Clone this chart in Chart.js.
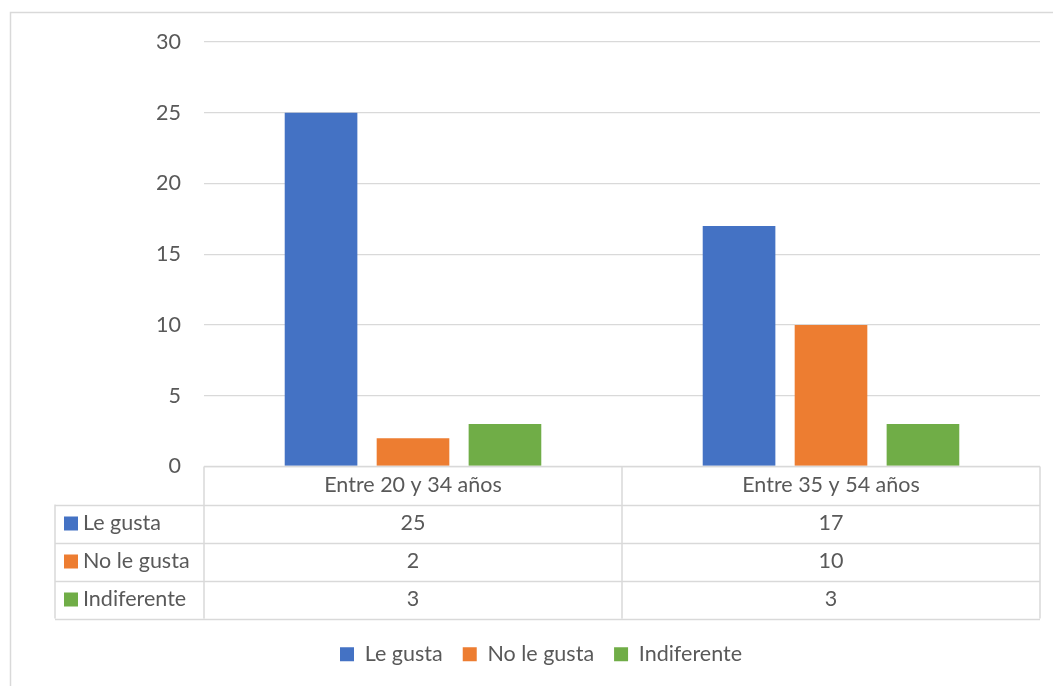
<!DOCTYPE html>
<html>
<head>
<meta charset="utf-8">
<script src="https://cdn.jsdelivr.net/npm/chart.js@4"></script>
<style>
  body { margin: 0; background: #fff; }
  #wrap { width: 1053px; height: 686px; }
</style>
</head>
<body>
<div id="wrap"><canvas id="chart" width="1053" height="686"></canvas></div>
<script>
// datos
const categorias = ['Entre 20 y 34 años', 'Entre 35 y 54 años'];
const leGusta = [25, 17];
const noLeGusta = [2, 10];
const indiferente = [3, 3];
const yMax = 30;
const yPaso = 5;

const series = [
  { label: 'Le gusta', data: leGusta, color: '#4472C4' },
  { label: 'No le gusta', data: noLeGusta, color: '#ED7D31' },
  { label: 'Indiferente', data: indiferente, color: '#70AD47' }
];

const FUENTE = 'Lato';
const TAM = 21.5;
const GRIS = '#595959';
const LINEA = '#d9d9d9';
const FILA = 38;      // alto de cada fila de la tabla
const COL_IZQ = 55;   // borde izquierdo de la tabla

// marco exterior
const marco = {
  id: 'marco',
  beforeDraw(chart) {
    const ctx = chart.ctx;
    ctx.save();
    ctx.fillStyle = '#fff';
    ctx.fillRect(0, 0, chart.width, chart.height);
    ctx.strokeStyle = LINEA;
    ctx.lineWidth = 1.5;
    ctx.strokeRect(10.5, 12.5, 1100, 700);
    ctx.restore();
  }
};

// tabla de datos bajo el eje x
const tabla = {
  id: 'tabla',
  afterDraw(chart) {
    const ctx = chart.ctx;
    const x = chart.scales.x;
    const area = chart.chartArea;
    const top = area.bottom;
    const izq = area.left, der = area.right;
    const n = series.length;
    ctx.save();
    ctx.strokeStyle = LINEA;
    ctx.lineWidth = 1.5;
    ctx.beginPath();
    // horizontales
    ctx.moveTo(izq, top); ctx.lineTo(der, top);
    for (let i = 1; i <= n + 1; i++) {
      const y = Math.round(top + FILA * i) + 0.5;
      ctx.moveTo(COL_IZQ, y); ctx.lineTo(der, y);
    }
    // verticales
    const fondo = top + FILA * (n + 1);
    ctx.moveTo(COL_IZQ, top + FILA); ctx.lineTo(COL_IZQ, fondo);
    ctx.moveTo(izq, top); ctx.lineTo(izq, fondo);
    for (let c = 0; c < categorias.length; c++) {
      const borde = c < categorias.length - 1
        ? (x.getPixelForTick(c) + x.getPixelForTick(c + 1)) / 2
        : der;
      ctx.moveTo(borde, top); ctx.lineTo(borde, fondo);
    }
    ctx.stroke();

    ctx.font = TAM + 'px ' + FUENTE;
    ctx.fillStyle = GRIS;
    ctx.textBaseline = 'middle';
    ctx.textAlign = 'center';
    categorias.forEach((cat, c) => {
      ctx.fillText(cat, x.getPixelForTick(c), top + FILA / 2);
    });
    series.forEach((s, i) => {
      const yc = top + FILA * (i + 1) + FILA / 2;
      ctx.fillStyle = s.color;
      ctx.fillRect(COL_IZQ + 9, yc - 7, 14, 14);
      ctx.fillStyle = GRIS;
      ctx.textAlign = 'left';
      ctx.fillText(s.label, COL_IZQ + 28, yc);
      ctx.textAlign = 'center';
      s.data.forEach((v, c) => {
        ctx.fillText(String(v), x.getPixelForTick(c), yc);
      });
    });
    ctx.restore();
  }
};

new Chart('chart', {
  type: 'bar',
  data: {
    labels: categorias,
    datasets: series.map(s => ({
      label: s.label,
      data: s.data,
      backgroundColor: s.color,
      borderWidth: 0,
      categoryPercentage: 0.66,
      barPercentage: 0.79
    }))
  },
  options: {
    responsive: false,
    animation: false,
    layout: { padding: { top: 42, right: 13, bottom: 11, left: 42 } },
    plugins: {
      tooltip: { enabled: false },
      legend: {
        position: 'bottom',
        labels: {
          color: GRIS,
          font: { family: FUENTE, size: TAM },
          boxWidth: 14,
          boxHeight: 14,
          padding: 20
        }
      }
    },
    scales: {
      x: {
        ticks: { display: false },
        grid: { display: false, drawTicks: false },
        border: { display: false },
        afterFit(scale) { scale.height = 157; }
      },
      y: {
        min: 0,
        max: yMax,
        ticks: {
          stepSize: yPaso,
          color: GRIS,
          padding: 23,
          font: { family: FUENTE, size: TAM }
        },
        grid: { color: LINEA, lineWidth: 1.3, drawTicks: false },
        border: { display: false },
        afterFit(scale) { scale.width = 162; }
      }
    }
  },
  plugins: [marco, tabla]
});
</script>
</body>
</html>
